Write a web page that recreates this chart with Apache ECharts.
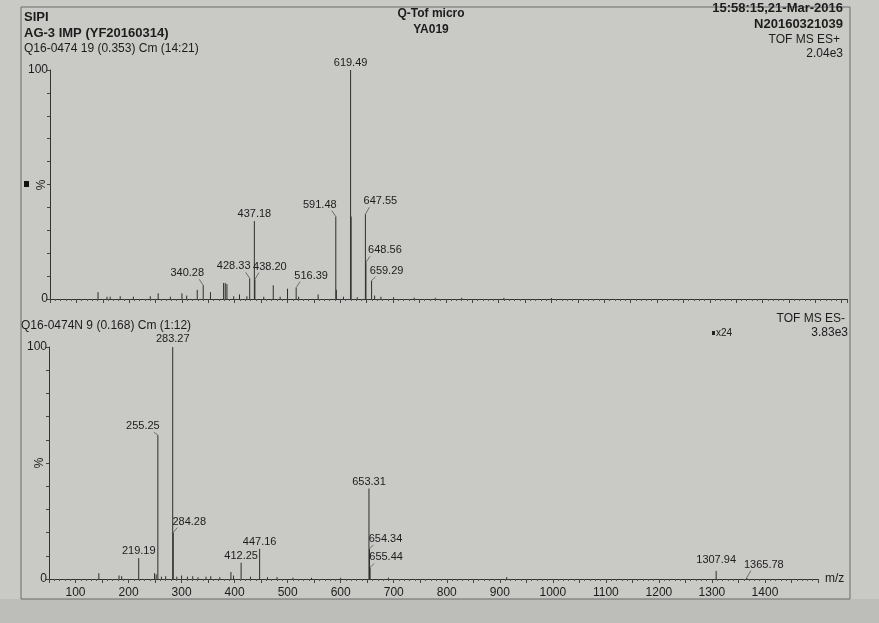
<!DOCTYPE html>
<html><head><meta charset="utf-8">
<script src="https://cdn.jsdelivr.net/npm/echarts@6/dist/echarts.min.js"></script>
<style>html,body{margin:0;padding:0;background:#c9c9c6}#c{width:879px;height:623px}</style>
</head><body><div id="c"></div><script>
// ---- Top spectrum (TOF MS ES+) ----
const topLabeledMz  = [340.28, 428.33, 437.18, 438.20, 516.39, 591.48, 619.49, 647.55, 648.56, 659.29];
const topLabeledInt = [6, 9, 34, 8.5, 5, 36, 100, 37, 16, 8];
const topOtherMz  = [141, 158, 164, 183, 208, 240, 255, 278, 300, 309, 329, 354, 378.9, 382, 385.2, 398, 409, 423, 455, 473, 486, 500, 521, 558, 592.49, 606, 620.50, 632, 665, 677, 701, 740, 780, 830, 910, 1000];
const topOtherInt = [3, 1, 1, 1.2, 1, 1.2, 2.5, 1, 2.5, 1.5, 4, 3, 7, 7, 6.5, 1.2, 2, 1.2, 1, 6, 1, 4.5, 1, 2, 4, 1, 36, 0.8, 1.5, 1, 0.8, 0.6, 0.5, 0.5, 0.5, 0.4];
// ---- Bottom spectrum (TOF MS ES-) ----
const botLabeledMz  = [219.19, 255.25, 283.27, 284.28, 412.25, 447.16, 653.31, 654.34, 655.44, 1307.94, 1365.78];
const botLabeledInt = [9, 62, 100, 20, 7, 13, 39, 13, 5, 3.5, 0.6];
const botOtherMz  = [144, 182, 187, 249, 252, 262, 270, 291, 300, 311, 321, 331, 346, 355, 372, 393, 398, 430, 462, 480, 510, 545, 600, 690, 913];
const botOtherInt = [2.5, 1.5, 1.2, 2.5, 2, 1, 1.2, 1, 1.5, 1, 1.2, 0.8, 1, 1.2, 0.8, 3, 1.5, 1, 0.8, 0.8, 0.6, 0.5, 0.5, 0.6, 0.8];
// axis tick labels
const xTickLabels = [100,200,300,400,500,600,700,800,900,1000,1100,1200,1300,1400];
const yTickLabels = [0, 100];

// label placement (pixel offsets of label centre from peak top) — styling, kept separate
const labelOffsets = {
 '340.28':[-16,-12], '428.33':[-16,-12], '437.18':[0,-7], '438.20':[15,-13], '516.39':[15,-12],
 '591.48':[-16,-12], '619.49':[0,-7], '647.55':[15,-13], '648.56':[19,-12], '659.29':[15,-10],
 '219.19':[0,-7], '255.25':[-15,-9], '283.27':[0,-8], '284.28':[16,-11], '412.25':[0,-7],
 '447.16':[0,-7], '653.31':[0,-7], '654.34':[16,-10], '655.44':[16,-10], '1307.94':[0,-11], '1365.78':[17,-13]
};

const FONT = '"Liberation Sans", Arial, sans-serif';
const TXT = '#1c1c1c';
const LINE = '#2e2e2e';

function peakSeries(idx, lmz, lint, omz, oint) {
  const data = [];
  omz.forEach((m,i)=>data.push([m, oint[i], 0]));
  lmz.forEach((m,i)=>data.push([m, lint[i], 1]));
  return {
    type:'custom', xAxisIndex:idx, yAxisIndex:idx, data, silent:true, clip:false,
    encode:{x:0, y:1},
    renderItem(params, api){
      const m = api.value(0), v = api.value(1), lab = api.value(2);
      const p0 = api.coord([m,0]), p1 = api.coord([m,v]);
      const ch = [{type:'line', shape:{x1:p0[0],y1:p0[1],x2:p1[0],y2:p1[1]}, style:{stroke:LINE, lineWidth:1}}];
      if (lab) {
        const key = m.toFixed(2);
        const o = labelOffsets[key] || [0,-8];
        const tx = p1[0]+o[0], ty = p1[1]+o[1];
        ch.push({type:'text', x:tx, y:ty, style:{text:key, fill:TXT, font:'11px '+FONT, align:'center', verticalAlign:'middle'}});
        if (o[0] !== 0) {
          ch.push({type:'line', shape:{x1:p1[0], y1:p1[1], x2:p1[0]+Math.sign(o[0])*4, y2:ty+6}, style:{stroke:'#555', lineWidth:0.8}});
        }
      }
      return {type:'group', children:ch};
    }
  };
}

function xAxis(idx, max, showLabels) {
  return {
    type:'value', gridIndex:idx, min:50, max:max, interval:50,
    axisLine:{show:true, onZero:false, lineStyle:{color:'#333', width:1.2}},
    axisTick:{show:true, length:4, lineStyle:{color:'#444'}},
    minorTick:{show:true, splitNumber:5, length:2, lineStyle:{color:'#555'}},
    splitLine:{show:false},
    axisLabel:{show:showLabels, margin:8, color:TXT, fontSize:12, fontFamily:FONT,
      formatter:v=> xTickLabels.includes(v) ? String(v) : ''},
    name: showLabels ? 'm/z' : '', nameLocation:'end', nameGap:7,
    nameTextStyle:{color:TXT, fontSize:12, fontFamily:FONT}
  };
}
function yAxis(idx) {
  return {
    type:'value', gridIndex:idx, min:0, max:100, interval:10,
    axisLine:{show:true, lineStyle:{color:'#333', width:1}},
    axisTick:{show:true, length:3, lineStyle:{color:'#444'}},
    splitLine:{show:false},
    axisLabel:{margin:2, color:TXT, fontSize:12, fontFamily:FONT,
      formatter:v=> yTickLabels.includes(v) ? String(v) : ''}
  };
}

const chart = echarts.init(document.getElementById('c'), null, {renderer:'canvas'});
const t = (text, x, y, opt={}) => ({type:'text', x, y, silent:true, rotation:opt.rot||0,
  style:{text, fill:TXT, font:(opt.bold?'bold ':'')+(opt.size||12)+'px '+FONT, align:opt.align||'left', verticalAlign:'middle'}});

chart.setOption({
  backgroundColor:'#c9c9c6',
  animation:false,
  grid:[
    {left:50, top:70, width:797, height:229},
    {left:49, top:347, width:769, height:232}
  ],
  xAxis:[xAxis(0, 1560, false), xAxis(1, 1500, true)],
  yAxis:[yAxis(0), yAxis(1)],
  series:[
    peakSeries(0, topLabeledMz, topLabeledInt, topOtherMz, topOtherInt),
    peakSeries(1, botLabeledMz, botLabeledInt, botOtherMz, botOtherInt)
  ],
  graphic:[
    {type:'rect', silent:true, z:-10, shape:{x:0, y:599, width:879, height:24}, style:{fill:'#bdbdba'}},
    {type:'rect', silent:true, z:-9, shape:{x:21, y:7, width:829, height:592}, style:{fill:'none', stroke:'#6a6a6a', lineWidth:1}},
    t('SIPI', 24, 17, {bold:true, size:13}),
    t('AG-3 IMP (YF20160314)', 24, 33, {bold:true, size:13}),
    t('Q16-0474 19 (0.353) Cm (14:21)', 24, 49, {size:12}),
    t('Q-Tof micro', 431, 14, {bold:true, size:12, align:'center'}),
    t('YA019', 431, 30, {bold:true, size:12, align:'center'}),
    t('15:58:15,21-Mar-2016', 843, 8, {bold:true, size:13, align:'right'}),
    t('N20160321039', 843, 24, {bold:true, size:13, align:'right'}),
    t('TOF MS ES+', 840, 40, {size:12, align:'right'}),
    t('2.04e3', 843, 54, {size:12, align:'right'}),
    {type:'rect', silent:true, shape:{x:24, y:181, width:5, height:6}, style:{fill:'#111'}},
    t('%', 42, 185, {size:12, align:'center', rot:Math.PI/2}),
    t('Q16-0474N 9 (0.168) Cm (1:12)', 21, 326, {size:12}),
    t('TOF MS ES-', 845, 319, {size:12, align:'right'}),
    t('3.83e3', 848, 333, {size:12, align:'right'}),
    {type:'rect', silent:true, shape:{x:712, y:331, width:3, height:4}, style:{fill:'#222'}},
    t('x24', 716, 333, {size:10}),
    t('%', 40, 463, {size:12, align:'center', rot:Math.PI/2})
  ]
});
</script></body></html>
